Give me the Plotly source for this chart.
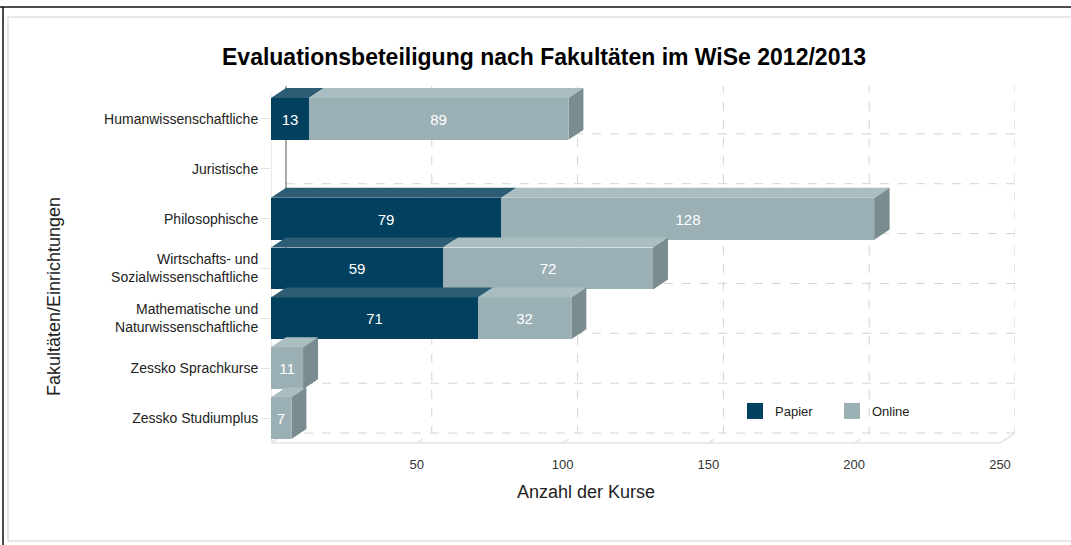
import plotly.graph_objects as go

categories = [
    "Humanwissenschaftliche",
    "Juristische",
    "Philosophische",
    "Wirtschafts- und<br>Sozialwissenschaftliche",
    "Mathematische und<br>Naturwissenschaftliche",
    "Zessko Sprachkurse",
    "Zessko Studiumplus",
]
papier = [13, 0, 79, 59, 71, 0, 0]
online = [89, 0, 128, 72, 32, 11, 7]
x_ticks = [50, 100, 150, 200, 250]

FONT = "Liberation Sans, Arial, sans-serif"
# front, top face, side face
COLORS = {
    "Papier": ("#01405e", "#2d5d75", "#1f4a60"),
    "Online": ("#9bb0b5", "#aabdc1", "#7b8c90"),
}

# pseudo-3D depth, in data units
DX, DY, HALF = 5.14, 0.2, 0.42

# pixel frame of the plot area
W, H = 1071, 545
L, R, T, B = 271, 1015, 86, 445


def px(x):
    return (x - L) / (R - L)


def py(y):
    return 1 - (y - T) / (B - T)


ypos = list(range(len(categories)))
series = [("Papier", papier), ("Online", online)]

fig = go.Figure()

for name, vals in series:
    fig.add_trace(go.Bar(
        y=ypos, x=vals, orientation="h", width=2 * HALF, name=name,
        marker=dict(color=COLORS[name][0], line=dict(width=0)),
        text=[str(v) if v else "" for v in vals],
        textposition="inside", insidetextanchor="middle", textangle=0,
        textfont=dict(color="white", size=15, family=FONT),
        showlegend=False, hoverinfo="x+y",
    ))

# top faces and right side faces
tops = {n: ([], []) for n, _ in series}
sides = {n: ([], []) for n, _ in series}
for i in ypos:
    start = 0
    last = None
    for name, vals in series:
        v = vals[i]
        if v <= 0:
            continue
        x0, x1 = start, start + v
        yt = i - HALF
        tops[name][0].extend([x0, x1, x1 + DX, x0 + DX, x0, None])
        tops[name][1].extend([yt, yt, yt - DY, yt - DY, yt, None])
        start = x1
        last = name
    if last:
        yb = i + HALF
        yt = i - HALF
        sides[last][0].extend([start, start + DX, start + DX, start, start, None])
        sides[last][1].extend([yt, yt - DY, yb - DY, yb, yt, None])

for name, _ in series:
    for poly, c in ((tops[name], COLORS[name][1]), (sides[name], COLORS[name][2])):
        if poly[0]:
            fig.add_trace(go.Scatter(
                x=poly[0], y=poly[1], mode="lines", fill="toself",
                fillcolor=c, line=dict(width=0, color=c),
                showlegend=False, hoverinfo="skip",
            ))

# legend entries
for name, _ in series:
    fig.add_trace(go.Scatter(
        x=[None], y=[None], mode="markers", name=name,
        marker=dict(symbol="square", size=16, color=COLORS[name][0]),
    ))

shapes = []
grid = dict(color="#d4d4d4", width=1, dash="dash")
y_top, y_bot = -0.5 - DY, len(categories) - 0.5 - DY
# back plane horizontal lines
for k in range(len(categories) + 1):
    yy = k - 0.5 - DY
    shapes.append(dict(type="line", layer="below", x0=DX, x1=x_ticks[-1] + DX,
                       y0=yy, y1=yy, line=grid))
# back plane vertical lines
for v in x_ticks:
    shapes.append(dict(type="line", layer="below", x0=v + DX, x1=v + DX,
                       y0=y_top, y1=y_bot, line=grid))
# back left wall
shapes.append(dict(type="line", layer="below", x0=DX, x1=DX, y0=y_top, y1=y_bot,
                   line=dict(color="#555555", width=1)))
# front axis lines
axis_line = dict(color="#e3e3e3", width=1.5)
y_front = len(categories) - 0.5
shapes.append(dict(type="line", layer="below", x0=0, x1=x_ticks[-1],
                   y0=y_front, y1=y_front, line=axis_line))
shapes.append(dict(type="line", layer="below", x0=0, x1=0,
                   y0=-0.5, y1=y_front, line=axis_line))
shapes.append(dict(type="line", layer="below", x0=x_ticks[-1], x1=x_ticks[-1] + DX,
                   y0=y_front, y1=y_front - DY, line=axis_line))
for v in [0] + x_ticks[:-1]:
    shapes.append(dict(type="line", layer="below", x0=v, x1=v + DX * 0.4,
                       y0=y_front, y1=y_front - DY * 0.4, line=axis_line))

# outer frame of the screenshot
shapes.append(dict(type="line", xref="paper", yref="paper", x0=px(0), x1=px(W),
                   y0=py(7), y1=py(7), line=dict(color="#111111", width=1.5)))
shapes.append(dict(type="line", xref="paper", yref="paper", x0=px(3), x1=px(3),
                   y0=py(7), y1=py(W), line=dict(color="#111111", width=1.5)))
shapes.append(dict(type="rect", xref="paper", yref="paper", x0=px(8), x1=px(W + 5),
                   y0=py(17), y1=py(541), line=dict(color="#cfcfcf", width=1)))

fig.update_layout(
    width=W, height=H,
    margin=dict(l=L, r=W - R, t=T, b=H - B, autoexpand=False),
    paper_bgcolor="white", plot_bgcolor="white",
    barmode="stack", bargap=0,
    font=dict(family=FONT, color="#222222", size=13),
    title=dict(text="<b>Evaluationsbeteiligung nach Fakultäten im WiSe 2012/2013</b>",
               xref="container", yref="container", x=544 / W, y=1 - 57 / H,
               xanchor="center", yanchor="middle",
               font=dict(size=23, color="#000000", family=FONT)),
    xaxis=dict(range=[0, (R - L) / ((1000 - L) / 250)], showgrid=False, zeroline=False,
               showline=False, tickvals=x_ticks, ticks="outside", ticklen=7,
               tickcolor="rgba(0,0,0,0)", tickfont=dict(size=13, color="#333333"),
               fixedrange=True, automargin=False),
    yaxis=dict(range=[len(categories) - 0.46, -0.66], showgrid=False, zeroline=False,
               showline=False, tickvals=ypos, ticktext=categories, ticks="outside",
               ticklen=9, tickcolor="#e3e3e3", tickfont=dict(size=14, color="#222222"),
               fixedrange=True, automargin=False),
    legend=dict(orientation="h", x=px(735), y=py(411), xanchor="left", yanchor="middle",
                bgcolor="rgba(0,0,0,0)", font=dict(size=13, color="#222222"),
                itemclick=False, traceorder="normal",
                entrywidth=52, entrywidthmode="pixels"),
    shapes=shapes,
    annotations=[
        dict(text="Fakultäten/Einrichtungen", xref="paper", yref="paper",
             x=px(54), y=py(297), xanchor="center", yanchor="middle",
             textangle=-90, showarrow=False,
             font=dict(size=18, color="#222222")),
        dict(text="Anzahl der Kurse", xref="paper", yref="paper",
             x=px(586), y=py(492), xanchor="center", yanchor="middle",
             showarrow=False, font=dict(size=18, color="#222222")),
    ],
)

# the page body has a default margin; drop it so the figure sits at (0, 0)
fig.write_html("out.html", config={"displayModeBar": False},
               post_script="document.body.style.margin = '0';")
